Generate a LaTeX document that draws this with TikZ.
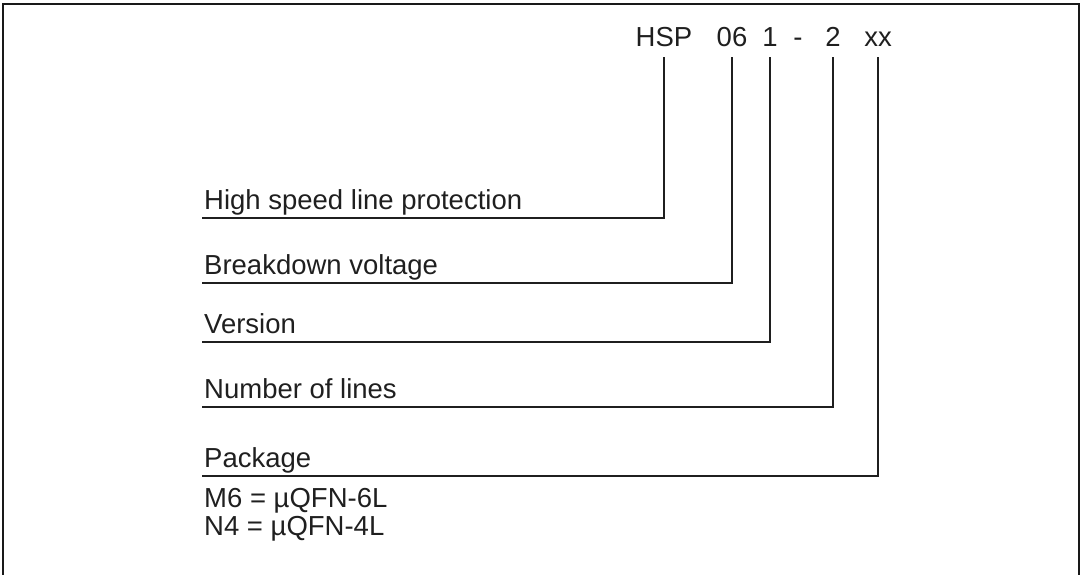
\documentclass[tikz,border=0pt]{standalone}
\usepackage{fontspec}
\setmainfont{Liberation Sans}
\usepackage{tikz}

\tikzset{
    code/.style={anchor=base, inner xsep=0pt, inner ysep=10pt, text depth=0pt},
    lbl/.style={anchor=south west, inner xsep=2pt, inner ysep=8pt, text depth=0pt},
    lead/.style={line width=2.2pt, color=black!88},
    frame/.style={line width=1.8pt, color=black!90}
}

\begin{document}
\begin{tikzpicture}[x=1pt, y=-1pt, font=\fontsize{27.5}{32}\selectfont, text=black!88]
    \useasboundingbox (0,0) rectangle (1082,575);
    \draw[frame] (3,575) -- (3,4) -- (1079,4) -- (1079,575);

    \node[code] (hsp) at (664,47) {HSP};
    \node[code] (volt) at (732,47) {06};
    \node[code] (ver) at (770,47) {1};
    \node[code] (dash) at (798,47) {-};
    \node[code] (lines) at (833,47) {2};
    \node[code] (pkg) at (878,47) {xx};

    \node[lbl] (hslp) at (202,218) {High speed line protection};
    \node[lbl] (bdv) at (202,283) {Breakdown voltage};
    \node[lbl] (version) at (202,342) {Version};
    \node[lbl] (nlines) at (202,407) {Number of lines};
    \node[lbl] (package) at (202,476) {Package};
    \node[anchor=base west, inner xsep=2pt] (msix) at (202,507) {M6 = µQFN-6L};
    \node[anchor=base west, inner xsep=2pt] (nfour) at (202,535) {N4 = µQFN-4L};

    \draw[lead] (hsp.south) |- (hslp.south west);
    \draw[lead] (volt.south) |- (bdv.south west);
    \draw[lead] (ver.south) |- (version.south west);
    \draw[lead] (lines.south) |- (nlines.south west);
    \draw[lead] (pkg.south) |- (package.south west);
\end{tikzpicture}
\end{document}
